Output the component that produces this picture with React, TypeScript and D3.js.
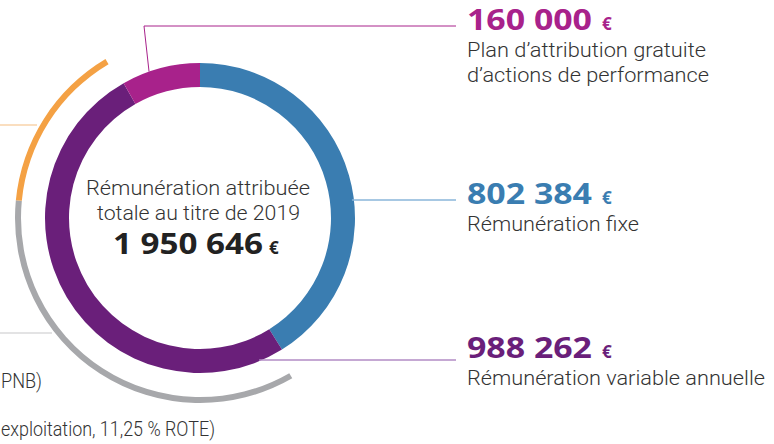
import React from "react";
import * as d3 from "d3";

const categories = ["Rémunération fixe", "Rémunération variable annuelle", "Plan d’attribution gratuite d’actions de performance"];
const values = [802384, 988262, 160000];
const valueLabels = ["802 384", "988 262", "160 000"];
const colors = ["#3a7db1", "#6a1f7a", "#a8228b"];
const lineColors = ["#8ab6da", "#b28bc4", "#a8228b"];
const variableSplit = [70, 30];
const splitColors = ["#a7a8ab", "#f4a144"];
const splitLineColors = ["#c8c8ca", "#f6bd80"];
const total = "1 950 646";
const centerLines = ["Rémunération attribuée", "totale au titre de 2019"];
const leftTexts = ["PNB)", "exploitation, 11,25 % ROTE)"];

const W = 774, H = 444;
const cx = 200, cy = 218;
const r0 = 131, r1 = 155;
const s0 = 179, s1 = 185;

export default function App() {
  const pie = d3.pie<number>().sort(null).startAngle(0).endAngle(2 * Math.PI);
  const arcs = pie(values);
  const arc = d3.arc<d3.PieArcDatum<number>>().innerRadius(r0).outerRadius(r1);

  const purple = arcs[1];
  const padStart = 2 * Math.PI / 180, padEnd = 1.2 * Math.PI / 180;
  const splitPie = d3.pie<number>().sort(null)
    .startAngle(purple.startAngle + padStart)
    .endAngle(purple.endAngle - padEnd);
  const splitArcs = splitPie(variableSplit);
  const arcOuter = d3.arc<d3.PieArcDatum<number>>().innerRadius(s0).outerRadius(s1);

  const textX = 467;
  const numFont = "'Open Sans', 'DejaVu Sans', sans-serif";
  const txtFont = "Roboto, 'Open Sans', sans-serif";

  const blocks = [
    { i: 2, y: 30, desc: ["Plan d’attribution gratuite", "d’actions de performance"], descW: [239, 242] },
    { i: 0, y: 204, desc: ["Rémunération fixe"], descW: [172] },
    { i: 1, y: 358, desc: ["Rémunération variable annuelle"], descW: [298] },
  ];
  const numW = 125;

  const pt = (a: number, r: number) => [cx + r * Math.sin(a), cy - r * Math.cos(a)];
  const magMid = pt(arcs[2].startAngle + 0.35 * (arcs[2].endAngle - arcs[2].startAngle), r1);
  const blueP = 200;
  const purpleY = 360;

  return (
    <svg width={W} height={H} style={{ position: "absolute", left: 0, top: 0, background: "#fff" }}>
      <g transform={`translate(${cx},${cy})`}>
        {arcs.map((a, k) => (
          <path key={k} d={arc(a) || ""} fill={colors[k]} />
        ))}
        {splitArcs.map((a, k) => (
          <path key={k} d={arcOuter(a) || ""} fill={splitColors[k]} />
        ))}
      </g>
      <polyline points={`${magMid[0]},${magMid[1]} 144,26 456,26`} fill="none" stroke={lineColors[2]} strokeWidth={1} />
      <line x1={cx + Math.sqrt(r1 * r1 - (blueP - cy) ** 2) - 2} y1={blueP} x2={456} y2={blueP} stroke={lineColors[0]} strokeWidth={1.5} />
      <line x1={cx + Math.sqrt(r1 * r1 - (purpleY - cy) ** 2) - 3} y1={purpleY} x2={456} y2={purpleY} stroke={lineColors[1]} strokeWidth={1.5} />
      <line x1={0} y1={125} x2={37} y2={125} stroke={splitLineColors[1]} strokeWidth={1.2} />
      <line x1={0} y1={333} x2={52} y2={333} stroke={splitLineColors[0]} strokeWidth={1.2} />

      <text x={1} y={388} fontFamily={txtFont} fontWeight={300} fontSize={20} fill="#333" textLength={41} lengthAdjust="spacingAndGlyphs">{leftTexts[0]}</text>
      <text x={1} y={436} fontFamily={txtFont} fontWeight={300} fontSize={20} fill="#333" textLength={214} lengthAdjust="spacingAndGlyphs">{leftTexts[1]}</text>

      <text x={198} y={195} textAnchor="middle" fontFamily={txtFont} fontWeight={300} fontSize={20} fill="#333" textLength={224} lengthAdjust="spacingAndGlyphs">{centerLines[0]}</text>
      <text x={198.5} y={220} textAnchor="middle" fontFamily={txtFont} fontWeight={300} fontSize={20} fill="#333" textLength={203} lengthAdjust="spacingAndGlyphs">{centerLines[1]}</text>
      <text x={113} y={254} fontFamily={numFont} fontWeight={700} fontSize={28} fill="#222" textLength={150} lengthAdjust="spacingAndGlyphs">{total}</text>
      <text x={269} y={254} fontFamily={numFont} fontWeight={700} fontSize={17} fill="#222">€</text>

      {blocks.map((b) => (
        <g key={b.i}>
          <text x={textX} y={b.y} fontFamily={numFont} fontWeight={700} fontSize={28} fill={colors[b.i]} textLength={numW} lengthAdjust="spacingAndGlyphs">{valueLabels[b.i]}</text>
          <text x={textX + numW + 10} y={b.y} fontFamily={numFont} fontWeight={700} fontSize={17} fill={colors[b.i]}>€</text>
          {b.desc.map((d, j) => (
            <text key={j} x={textX} y={b.y + 27 + j * 25} fontFamily={txtFont} fontWeight={300} fontSize={20} fill="#333" textLength={b.descW[j]} lengthAdjust="spacingAndGlyphs">{d}</text>
          ))}
        </g>
      ))}
    </svg>
  );
}
